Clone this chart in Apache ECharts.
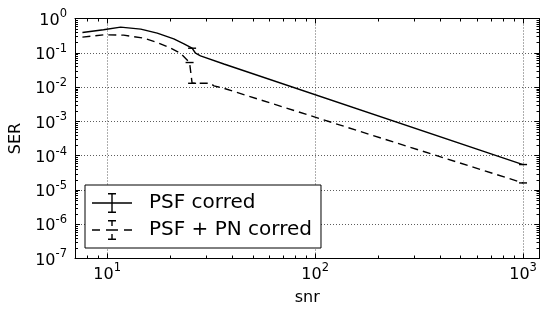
<!DOCTYPE html>
<html><head><meta charset="utf-8">
<script src="https://cdn.jsdelivr.net/npm/echarts@6/dist/echarts.min.js"></script>
<style>html,body{margin:0;padding:0;background:#fff}#c{width:550px;height:316px}</style>
</head><body><div id="c"></div>
<script>
// ---- data ----
const snrSolid = [7.6, 9.6, 11.6, 14.5, 17.4, 20.9, 23.4, 25.6, 26.6, 28.1, 36.4, 1000];
const serSolid = [0.39, 0.47, 0.56, 0.49, 0.374, 0.255, 0.182, 0.136, 0.097, 0.081, 0.047, 5.5e-5];
const snrDash = [7.6, 9.6, 12.0, 15.0, 17.4, 20.2, 22.5, 24.9, 25.6, 31.4, 32.6, 36.4, 1000];
const serDash = [0.286, 0.334, 0.327, 0.267, 0.199, 0.136, 0.097, 0.052, 0.0129, 0.0129, 0.0108, 0.0092, 1.6e-5];
const capIdxSolid = [7, 11];
const capIdxDash = [7, 8, 12];
const seriesNames = ['PSF corred', 'PSF + PN corred'];
const xMinorTicks = [8, 9, 20, 30, 40, 50, 60, 70, 80, 90, 200, 300, 400, 500, 600, 700, 800, 900];
const yMantissas = [2, 3, 4, 5, 6, 7, 8, 9];
const yDecades = [-7, -6, -5, -4, -3, -2, -1];

const FONT = 'DejaVu Sans';
const yMinorTicks = [];
yDecades.forEach(e => yMantissas.forEach(m => yMinorTicks.push(m * Math.pow(10, e))));

function powLabel(v) {
  const l = Math.log10(v);
  const e = Math.round(l);
  if (Math.abs(l - e) > 1e-6) return '';
  return '{b|10}{s|' + (e < 0 ? '-' : '') + Math.abs(e) + '}';
}
const rich = {
  b: {fontSize: 16, fontFamily: FONT, color: '#000', lineHeight: 20, verticalAlign: 'bottom'},
  s: {fontSize: 11.5, fontFamily: FONT, color: '#000', lineHeight: 9, verticalAlign: 'top'}
};
const tickStyle = {color: '#000', width: 1};
const gridLine = {show: true, lineStyle: {color: '#333', type: [1, 2], width: 0.8}};

function minorTickRender(isX) {
  return function (params, api) {
    const cs = params.coordSys;
    const p = api.coord([api.value(0), api.value(1)]);
    const L = 3;
    const st = {stroke: '#000', lineWidth: 1};
    if (isX) {
      const x = Math.round(p[0]) + 0.5;
      return {type: 'group', children: [
        {type: 'line', shape: {x1: x, y1: cs.y + cs.height, x2: x, y2: cs.y + cs.height - L}, style: st},
        {type: 'line', shape: {x1: x, y1: cs.y, x2: x, y2: cs.y + L}, style: st}
      ]};
    }
    const y = Math.round(p[1]) + 0.5;
    return {type: 'group', children: [
      {type: 'line', shape: {x1: cs.x, y1: y, x2: cs.x + L, y2: y}, style: st},
      {type: 'line', shape: {x1: cs.x + cs.width, y1: y, x2: cs.x + cs.width - L, y2: y}, style: st}
    ]};
  };
}
function capRender(params, api) {
  const p = api.coord([api.value(0), api.value(1)]);
  return {type: 'line', shape: {x1: p[0] - 4, y1: p[1], x2: p[0] + 4, y2: p[1]},
          style: {stroke: '#000', lineWidth: 1.4}};
}

const iconSolid = 'path://M0,9.3h40v1.4h-40zM19.3,0h1.4v20h-1.4zM16,0h8v1.4h-8zM16,18.6h8v1.4h-8z';
const iconDash = 'path://M0,9.3h8v1.4h-8zM14,9.3h12v1.4h-12zM32,9.3h8v1.4h-8zM19.3,0h1.4v6h-1.4zM19.3,14h1.4v6h-1.4zM16,0h8v1.4h-8zM16,18.6h8v1.4h-8z';

const chart = echarts.init(document.getElementById('c'), null, {renderer: 'canvas'});
chart.setOption({
  animation: false,
  color: ['#000', '#000'],
  textStyle: {fontFamily: FONT},
  grid: {left: 74.5, right: 10.5, top: 18.5, bottom: 57.5, containLabel: false},
  legend: {
    data: [{name: seriesNames[0], icon: iconSolid}, {name: seriesNames[1], icon: iconDash}],
    orient: 'vertical', left: 85, top: 185,
    itemWidth: 40, itemHeight: 20, itemGap: 7,
    padding: [8, 9, 8, 7],
    borderColor: '#000', borderWidth: 1, backgroundColor: '#fff',
    itemStyle: {color: '#000', borderWidth: 0},
    textStyle: {fontSize: 20, fontFamily: FONT, color: '#000', padding: [0, 0, 0, 12]},
    selectedMode: false
  },
  xAxis: [
    {type: 'log', logBase: 10, min: 7, max: 1200, position: 'bottom',
     name: 'snr', nameLocation: 'middle', nameGap: 31,
     nameTextStyle: {fontSize: 16, fontFamily: FONT, color: '#000'},
     axisLine: {show: true, lineStyle: tickStyle},
     axisTick: {show: true, inside: true, length: 5, lineStyle: tickStyle},
     axisLabel: {formatter: powLabel, rich: rich, margin: 4},
     splitLine: gridLine, minorTick: {show: false}, minorSplitLine: {show: false}},
    {type: 'log', logBase: 10, min: 7, max: 1200, position: 'top',
     axisLine: {show: true, lineStyle: tickStyle},
     axisTick: {show: true, inside: true, length: 5, lineStyle: tickStyle},
     axisLabel: {show: false}, splitLine: {show: false}}
  ],
  yAxis: [
    {type: 'log', logBase: 10, min: 1e-7, max: 1, splitNumber: 7, position: 'left',
     name: 'SER', nameLocation: 'middle', nameGap: 51,
     nameTextStyle: {fontSize: 16, fontFamily: FONT, color: '#000'},
     axisLine: {show: true, lineStyle: tickStyle},
     axisTick: {show: true, inside: true, length: 5, lineStyle: tickStyle},
     axisLabel: {formatter: powLabel, rich: rich, margin: 8},
     splitLine: gridLine},
    {type: 'log', logBase: 10, min: 1e-7, max: 1, splitNumber: 7, position: 'right',
     axisLine: {show: true, lineStyle: tickStyle},
     axisTick: {show: true, inside: true, length: 5, lineStyle: tickStyle},
     axisLabel: {show: false}, splitLine: {show: false}}
  ],
  series: [
    {name: seriesNames[0], type: 'line', symbol: 'none', showSymbol: false,
     data: snrSolid.map((x, i) => [x, serSolid[i]]),
     lineStyle: {color: '#000', width: 1.4}, itemStyle: {color: '#000'}, z: 3},
    {name: seriesNames[1], type: 'line', symbol: 'none', showSymbol: false,
     data: snrDash.map((x, i) => [x, serDash[i]]),
     lineStyle: {color: '#000', width: 1.4, type: [8, 5]}, itemStyle: {color: '#000'}, z: 3},
    {type: 'custom', silent: true, clip: false, renderItem: capRender, z: 4,
     data: capIdxSolid.map(i => [snrSolid[i], serSolid[i]])},
    {type: 'custom', silent: true, clip: false, renderItem: capRender, z: 4,
     data: capIdxDash.map(i => [snrDash[i], serDash[i]])},
    {type: 'custom', silent: true, clip: false, renderItem: minorTickRender(true), z: 5,
     data: xMinorTicks.map(v => [v, 1e-7])},
    {type: 'custom', silent: true, clip: false, renderItem: minorTickRender(false), z: 5,
     data: yMinorTicks.map(v => [7, v])}
  ]
});
</script></body></html>
